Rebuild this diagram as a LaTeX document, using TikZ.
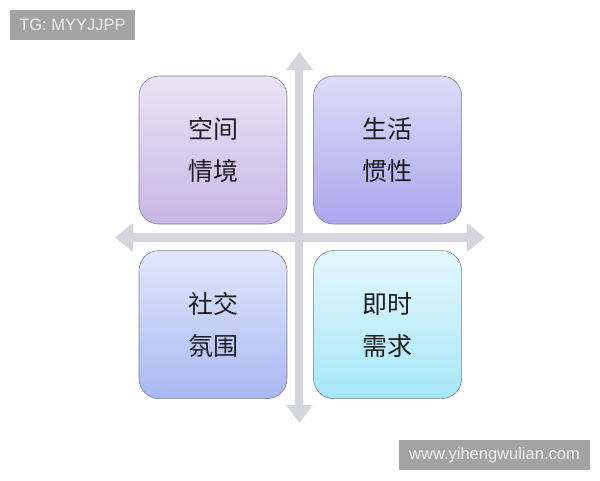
\documentclass[tikz,border=0pt]{standalone}
\usepackage{fontspec}
\setmainfont{Liberation Sans}
\newfontfamily\cjk{Noto Sans CJK SC}
\usetikzlibrary{positioning}
\definecolor{axisgray}{RGB}{213,213,222}
\definecolor{rimgray}{RGB}{128,128,140}
\definecolor{taggray}{RGB}{163,163,163}
\definecolor{lilatop}{RGB}{236,228,246}
\definecolor{lilabot}{RGB}{200,182,230}
\definecolor{violtop}{RGB}{222,220,248}
\definecolor{violbot}{RGB}{170,166,238}
\definecolor{bluetop}{RGB}{224,232,251}
\definecolor{bluebot}{RGB}{169,184,243}
\definecolor{cyantop}{RGB}{227,247,253}
\definecolor{cyanbot}{RGB}{166,231,249}

\begin{document}
\begin{tikzpicture}[x=1pt,y=-1pt,
    quad/.style={draw=rimgray, line width=0.6pt, rounded corners=20pt,
      minimum width=148pt, minimum height=148pt, align=center,
      text=black!88, font=\cjk\fontsize{25}{42}\selectfont},
    tag/.style={fill=taggray, text=white!94!black, minimum height=30pt,
      inner sep=0pt, font=\fontsize{16.5}{18}\selectfont}]
			\useasboundingbox (0,0) rectangle (600,480);
			%Eixos
			\fill[axisgray] (295,70) -- (286,70) -- (299.5,52) -- (313,70) -- (303,70)
			  -- (303,405) -- (313,405) -- (299.5,423) -- (286,405) -- (295,405) -- cycle;
			\fill[axisgray] (133,233) -- (133,223) -- (115,237.5) -- (133,252) -- (133,242)
			  -- (467,242) -- (467,252) -- (485,237.5) -- (467,223) -- (467,233) -- cycle;
			
			%Quadrantes
			\node[quad, top color=lilatop, bottom color=lilabot] (kongjian) at (213,150) {空间\\情境};
			\node[quad, top color=violtop, bottom color=violbot, right=26pt of kongjian] (shenghuo) {生活\\惯性};
			\node[quad, top color=bluetop, bottom color=bluebot, below=26pt of kongjian] (shejiao) {社交\\氛围};
			\node[quad, top color=cyantop, bottom color=cyanbot, below=26pt of shenghuo] (jishi) {即时\\需求};
			
			%Etiquetas
			\node[tag, minimum width=125pt] (tg) at (72.5,25) {TG: MYYJJPP};
			\node[tag, minimum width=191pt] (site) at (494.5,455) {www.yihengwulian.com};
\end{tikzpicture}
\end{document}
